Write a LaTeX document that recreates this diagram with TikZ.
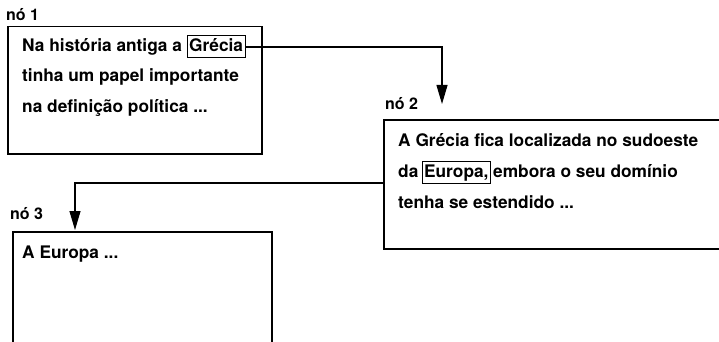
\documentclass[tikz,border=0pt]{standalone}
\usepackage{fontspec}
\setmainfont{TeX Gyre Heros}
\usetikzlibrary{arrows.meta}
\begin{document}
\begin{tikzpicture}[x=1pt,y=-1pt,
  box/.style={draw, line width=1.5pt, anchor=north west, inner sep=0pt},
  txt/.style={anchor=base west, inner sep=0pt, font=\bfseries\fontsize{17.3}{21}\selectfont},
  lbl/.style={anchor=base west, inner sep=0pt, font=\bfseries\fontsize{16}{19}\selectfont},
  hl/.style={txt, draw, line width=1pt, inner xsep=2pt, inner ysep=3pt, text height=13pt, text depth=3pt},
  conn/.style={line width=1.1pt, -{Triangle[length=19pt,width=11pt]}}]
\useasboundingbox (0,0) rectangle (719,342);
% boxes
\node[box, minimum width=254pt, minimum height=127pt] (n1) at (7,26) {};
\node[box, minimum width=345pt, minimum height=129pt] (n2) at (383,119) {};
\node[box, minimum width=259pt, minimum height=130pt] (n3) at (12,231) {};
% labels
\node[lbl] (l1) at (6,21) {nó 1};
\node[lbl] (l2) at (385,110) {nó 2};
\node[lbl] (l3) at (10,219) {nó 3};
% box 1 text
\node[txt] (a1) at (22,52) {Na história antiga a};
\node[hl] (grecia) at ([xshift=4.5pt]a1.base east) {Grécia};
\node[txt] (a2) at (22,82) {tinha um papel importante};
\node[txt] (a3) at (22,112) {na definição política ...};
% box 2 text
\node[txt] (b1) at (398,146) {A Grécia fica localizada no sudoeste};
\node[txt] (b2) at (398,177) {da};
\node[hl] (europa) at ([xshift=3pt]b2.base east) {Europa,};
\node[txt] (b2b) at ([xshift=2pt]europa.base east) {embora o seu domínio};
\node[txt] (b3) at (398,208) {tenha se estendido ...};
% box 3 text
\node[txt] (c1) at (22,258) {A Europa ...};
% connectors
\coordinate (t2) at (442,104);
\coordinate (t3) at (75,230);
\draw[conn] (grecia.east) -| (t2);
\draw[conn] ([yshift=-64pt]n2.north west) -| (t3);
\end{tikzpicture}
\end{document}
